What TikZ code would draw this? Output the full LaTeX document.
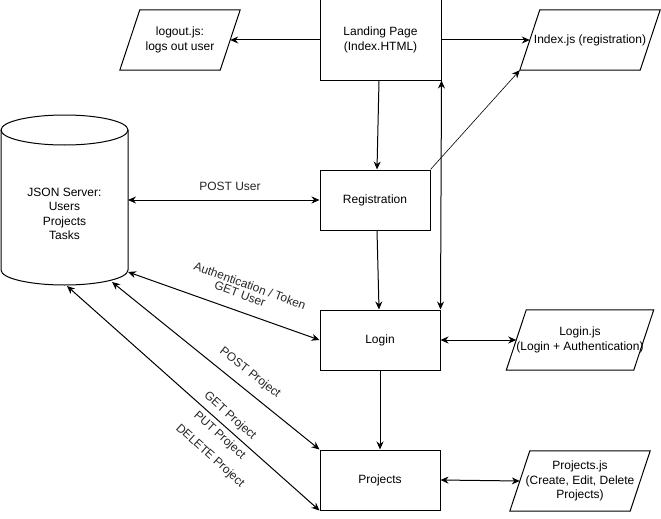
\documentclass[tikz,border=0pt]{standalone}
\usepackage{fontspec}
\setmainfont{Liberation Sans}
\usetikzlibrary{arrows.meta}
\begin{document}
\begin{tikzpicture}[x=1pt,y=-1pt,
  every node/.style={font=\fontsize{12}{14.5}\selectfont, align=center, inner sep=0pt},
  ln/.style={line width=1pt},
  box/.style={draw, line width=1pt},
  para/.style={minimum width=#1, minimum height=60pt},
  arr/.style={-{Stealth[length=8pt,width=7pt]}, line width=1pt},
  darr/.style={{Stealth[length=8pt,width=7pt]}-{Stealth[length=8pt,width=7pt]}, line width=1pt},
  lbl/.style={font=\fontsize{12}{14}\selectfont, text=black!85}]
\useasboundingbox (0,0) rectangle (661,519);

% boxes
\node[box, minimum width=121pt, minimum height=80pt] (landing) at (380.5,40) {Landing Page\\(Index.HTML)};
\node[box, minimum width=110pt, minimum height=60pt] (reg) at (375,200) {Registration};
\node[box, minimum width=120pt, minimum height=60pt] (login) at (380,340) {Login};
\node[box, minimum width=120pt, minimum height=60pt] (proj) at (380,480) {Projects};

% parallelograms
\node[para=100pt] (logout) at (180,40) {logout.js:\\logs out user};
\node[para=120pt] (idx) at (590,40) {Index.js (registration)};
\node[para=120pt] (loginjs) at (580,340) {Login.js\\(Login + Authentication)};
\node[para=120pt] (projjs) at (580,481) {Projects.js\\(Create, Edit, Delete\\Projects)};
\foreach \n in {logout,idx,loginjs,projjs}
  \draw[ln] ([xshift=10pt]\n.north west) -- ([xshift=10pt]\n.north east)
    -- ([xshift=-10pt]\n.south east) -- ([xshift=-10pt]\n.south west) -- cycle;

% database cylinder
\node[minimum width=127pt, minimum height=140pt] (db) at (64.5,214) {JSON Server:\\Users\\Projects\\Tasks};
\draw[ln] (1,130) -- (1,270) arc[start angle=180, end angle=360, x radius=63.5pt, y radius=15pt] -- (128,130);
\draw[ln] (64.5,130) ellipse[x radius=63.5pt, y radius=15pt];
\coordinate (dbR) at (128,200);
\coordinate (dbA) at (128,272);
\coordinate (dbB) at (112,282);
\coordinate (dbC) at (67,286);

% connectors
\draw[arr] (landing.west) -- (logout.east);
\draw[arr] (landing.east) -- (idx.west);
\draw[arr] ([xshift=-1.5pt]landing.south) -- ([xshift=2pt]reg.north);
\draw[darr] (login.north east) -- (landing.south east);
\draw[-{Stealth[length=8pt,width=7pt]}, line width=0.6pt] (reg.north east) -- ([xshift=-10pt]idx.south west);
\draw[arr] ([xshift=2pt]reg.south) -- ([xshift=-1pt]login.north);
\draw[arr] (login.south) -- (proj.north);
\draw[darr] (login.east) -- (loginjs.west);
\draw[darr] (proj.east) -- (projjs.west);

\draw[darr] (dbR) -- (reg.west);
\draw[darr] (dbA) -- (login.west);
\draw[darr] (dbB) -- (proj.north west);
\draw[darr] (dbC) -- (proj.south west);

% labels
\node[lbl] (lPostUser) at (230,186) {POST User};
\node[lbl, rotate=-20] (lAuth1) at (250,285.5) {Authentication / Token};
\node[lbl, rotate=-20] (lAuth2) at (240,294) {GET User};
\node[lbl, rotate=-38] (lPostProj) at (250,373) {POST Project};
\node[lbl, rotate=-42] (lGet) at (230,416) {GET Project};
\node[lbl, rotate=-42] (lPut) at (219.5,435.5) {PUT Project};
\node[lbl, rotate=-42] (lDel) at (210,456) {DELETE Project};
\end{tikzpicture}
\end{document}
